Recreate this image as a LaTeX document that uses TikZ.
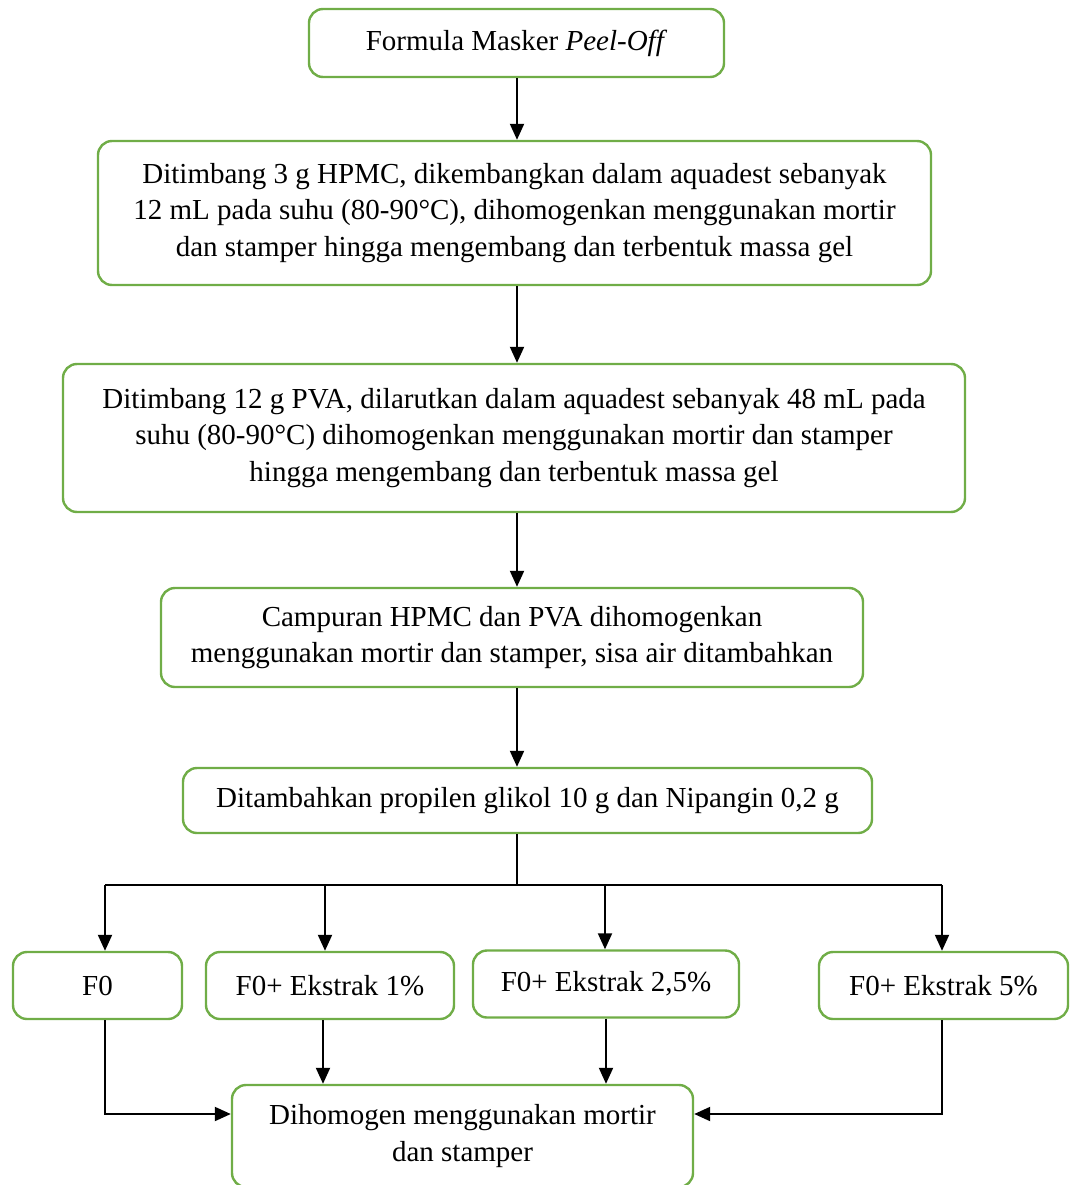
\documentclass[tikz,border=0pt]{standalone}
\usepackage{fontspec}
\setmainfont{Liberation Serif}
\usetikzlibrary{arrows.meta,positioning}
\definecolor{boxgreen}{HTML}{70AD47}

\begin{document}
\begin{tikzpicture}[x=1pt,y=-1pt,
    >={Triangle[length=16pt,width=14pt]},
    font=\fontsize{29}{36.5}\selectfont,
    box/.style={draw=boxgreen,line width=2.4pt,rounded corners=14pt,
        align=center,inner sep=0pt},
    arr/.style={->,line width=2pt},
    bus/.style={line width=1.2pt}]
    \useasboundingbox (0,0) rectangle (1070,1185);

    \node[box,minimum width=415pt,minimum height=68pt] (formula) at (516.5,43)
        {Formula Masker \textit{Peel-Off}};
    \node[box,minimum width=833pt,minimum height=144pt] (hpmc) at (514.5,213)
        {Ditimbang 3 g HPMC, dikembangkan dalam aquadest sebanyak\\
         12 mL pada suhu (80-90°C), dihomogenkan menggunakan mortir\\
         dan stamper hingga mengembang dan terbentuk massa gel};
    \node[box,minimum width=902pt,minimum height=148pt] (pva) at (514,438)
        {Ditimbang 12 g PVA, dilarutkan dalam aquadest sebanyak 48 mL pada\\
         suhu (80-90°C) dihomogenkan menggunakan mortir dan stamper\\
         hingga mengembang dan terbentuk massa gel};
    \node[box,minimum width=702pt,minimum height=99pt] (campur) at (512,637.5)
        {Campuran HPMC dan PVA dihomogenkan\\
         menggunakan mortir dan stamper, sisa air ditambahkan};
    \node[box,minimum width=689pt,minimum height=65pt] (tambah) at (527.5,800.5)
        {Ditambahkan propilen glikol 10 g dan Nipangin 0,2 g};

    \node[box,minimum width=169pt,minimum height=67pt] (f0) at (97.5,985.5) {F0};
    \node[box,minimum width=248pt,minimum height=67pt] (fa) at (330,985.5) {F0+ Ekstrak 1\%};
    \node[box,minimum width=266pt,minimum height=67pt] (fb) at (606,984) {F0+ Ekstrak 2,5\%};
    \node[box,minimum width=249pt,minimum height=67pt] (fc) at (943.5,985.5) {F0+ Ekstrak 5\%};
    \node[box,minimum width=461pt,minimum height=102pt] (homogen) at (462.5,1136)
        {Dihomogen menggunakan mortir\\dan stamper};

    \coordinate (col) at (517,0);
    \coordinate (split) at (517,885);

    \draw[arr] (formula.south -| col) -- (hpmc.north -| col);
    \draw[arr] (hpmc.south -| col) -- (pva.north -| col);
    \draw[arr] (pva.south -| col) -- (campur.north -| col);
    \draw[arr] (campur.south -| col) -- (tambah.north -| col);
    \draw[bus] (tambah.south -| col) -- (split);
    \draw[bus] ([xshift=7.5pt]f0.north |- split) -- ([xshift=-1.5pt]fc.north |- split);
    \draw[arr] ([xshift=7.5pt]f0.north |- split) -- ([xshift=7.5pt]f0.north);
    \draw[arr] ([xshift=-5pt]fa.north |- split) -- ([xshift=-5pt]fa.north);
    \draw[arr] ([xshift=-1pt]fb.north |- split) -- ([xshift=-1pt]fb.north);
    \draw[arr] ([xshift=-1.5pt]fc.north |- split) -- ([xshift=-1.5pt]fc.north);

    \draw[arr] ([xshift=7.5pt]f0.south) |- ([yshift=22pt]homogen.west);
    \draw[arr] ([xshift=-7pt]fa.south) -- ([xshift=-7pt]fa.south |- homogen.north);
    \draw[arr] (fb.south) -- (fb.south |- homogen.north);
    \draw[arr] ([xshift=-1.5pt]fc.south) |- ([yshift=22pt]homogen.east);
\end{tikzpicture}
\end{document}
